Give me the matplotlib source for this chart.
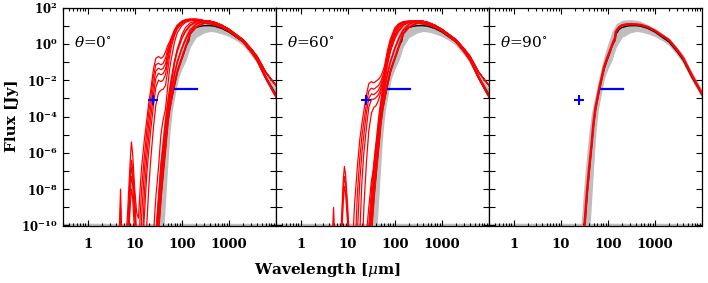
import matplotlib
matplotlib.use('Agg')
import matplotlib.pyplot as plt
from matplotlib.ticker import LogLocator, NullFormatter

plt.rcParams['mathtext.fontset'] = 'dejavuserif'
plt.rcParams['font.family'] = 'DejaVu Serif'

# ---------------- data (log10 flux in Jy; -12 = below plot floor) ----------------
W_RISE = [4, 4.5, 5, 5.5, 6, 7, 8, 8.5, 9, 10, 11, 12, 13, 14, 16, 18, 20, 22, 25, 28,
          32, 36, 40, 45, 50, 55, 60, 70, 80, 100, 120, 150, 200, 250]
W_TAIL = [300, 400, 500, 700, 1000, 1500, 2000, 3000, 4000, 6000, 10000]
TAIL_HI = [1.27, 1.24, 1.18, 1.03, 0.80, 0.46, 0.22, -0.30, -0.72, -1.55, -2.30]
TAIL_LO = [1.15, 1.12, 1.07, 0.93, 0.72, 0.38, 0.13, -0.43, -0.90, -1.85, -2.90]

# theta = 0 deg models
P1_A = [-12, -12, -8.0, -12, -12, -9.5, -6.5, -5.4, -6.0, -8.0, -9.3, -9.6, -8.0, -6.8, -5.3, -4.2, -3.2, -2.5, -1.4, -0.8,
        -0.7, -0.8, -0.72, -0.45, -0.1, 0.1, 0.35, 0.78, 1.03, 1.25, 1.33, 1.37, 1.37, 1.33]
P1_B = [-12, -12, -9.0, -12, -12, -10.5, -7.2, -6.4, -6.8, -8.5, -10.5, -12, -9.5, -8.0, -6.2, -4.8, -3.7, -2.9, -1.8, -1.15,
        -1.07, -1.15, -1.08, -0.8, -0.3, 0.0, 0.28, 0.72, 1.0, 1.22, 1.31, 1.35, 1.35, 1.32]
P1_C = [-12, -12, -12, -12, -12, -12, -7.6, -6.8, -7.2, -9.0, -12, -12, -12, -9.5, -7.0, -5.5, -4.3, -3.4, -2.3, -1.5,
        -1.34, -1.42, -1.36, -1.1, -0.5, -0.08, 0.22, 0.68, 0.97, 1.2, 1.29, 1.34, 1.34, 1.31]
P1_D = [-12, -12, -12, -12, -12, -12, -8.2, -7.3, -7.7, -9.5, -12, -12, -12, -12, -8.2, -6.3, -5.0, -4.0, -2.8, -1.9,
        -1.62, -1.7, -1.64, -1.4, -0.75, -0.2, 0.15, 0.63, 0.93, 1.17, 1.27, 1.33, 1.33, 1.3]
P1_E = [-12, -12, -12, -12, -12, -12, -9.0, -8.0, -8.4, -10.5, -12, -12, -12, -12, -9.5, -7.2, -5.8, -4.7, -3.4, -2.4,
        -2.0, -2.08, -2.0, -1.7, -1.0, -0.35, 0.05, 0.58, 0.9, 1.15, 1.26, 1.32, 1.32, 1.3]
P1_F = [-12, -12, -12, -12, -12, -12, -12, -12, -12, -12, -12, -12, -12, -12, -12, -10.0, -7.8, -6.3, -4.6, -3.4,
        -2.7, -2.55, -2.5, -2.3, -1.5, -0.7, -0.15, 0.45, 0.82, 1.1, 1.23, 1.3, 1.31, 1.29]
P1_G = [-12, -12, -12, -12, -12, -12, -12, -12, -12, -12, -12, -12, -12, -12, -12, -12, -12, -12, -10.5, -8.5,
        -6.8, -5.0, -4.2, -3.6, -2.4, -1.4, -0.8, 0.1, 0.6, 1.0, 1.18, 1.27, 1.3, 1.28]
P1_H = [-12, -12, -12, -12, -12, -12, -12, -12, -12, -12, -12, -12, -12, -12, -12, -12, -12, -12, -12, -10.5,
        -8.5, -6.6, -5.6, -5.3, -3.9, -2.9, -2.2, -1.0, -0.3, 0.5, 0.9, 1.15, 1.25, 1.25]
# right-hand bundle (shared by theta = 0 and 60 deg)
EDGE_1 = [-12, -12, -12, -12, -12, -12, -12, -12, -12, -12, -12, -12, -12, -12, -12, -12, -12, -12, -12, -12,
          -10.2, -8.4, -7.1, -5.7, -4.4, -3.6, -3.05, -2.2, -1.55, -0.8, -0.2, 0.55, 0.92, 1.05]
EDGE_2 = [-12, -12, -12, -12, -12, -12, -12, -12, -12, -12, -12, -12, -12, -12, -12, -12, -12, -12, -12, -11.5,
          -9.6, -7.8, -6.4, -5.0, -3.9, -3.1, -2.55, -1.65, -1.0, -0.25, 0.25, 0.75, 1.08, 1.18]
EDGE_3 = [-12, -12, -12, -12, -12, -12, -12, -12, -12, -12, -12, -12, -12, -12, -12, -12, -12, -12, -12, -10.6,
          -8.8, -7.0, -5.6, -4.3, -3.3, -2.55, -1.95, -1.0, -0.4, 0.3, 0.7, 1.02, 1.2, 1.25]

# theta = 60 deg models
P2_A = [-12, -12, -9.0, -12, -12, -11.0, -7.6, -6.75, -7.2, -9.0, -11.0, -12, -10.5, -8.8, -6.8, -5.3, -4.4, -3.7, -2.8, -2.2,
        -2.08, -2.15, -2.05, -1.95, -1.8, -1.55, -1.25, -0.35, 0.25, 0.88, 1.1, 1.22, 1.26, 1.25]
P2_B = [-12, -12, -12, -12, -12, -12, -8.2, -7.3, -7.7, -9.5, -12, -12, -12, -12, -8.3, -6.3, -5.1, -4.3, -3.3, -2.6,
        -2.44, -2.5, -2.4, -2.3, -2.1, -1.8, -1.45, -0.55, 0.1, 0.8, 1.07, 1.2, 1.25, 1.24]
P2_C = [-12, -12, -12, -12, -12, -12, -8.8, -7.85, -8.2, -10.0, -12, -12, -12, -12, -10.5, -7.6, -6.0, -5.0, -3.8, -3.0,
        -2.75, -2.8, -2.7, -2.55, -2.3, -1.95, -1.6, -0.7, 0.0, 0.75, 1.05, 1.19, 1.24, 1.23]
P2_D = [-12, -12, -12, -12, -12, -12, -12, -12, -12, -12, -12, -12, -12, -12, -12, -10.5, -7.6, -6.0, -4.6, -3.5,
        -3.05, -3.05, -2.95, -2.8, -2.5, -2.1, -1.7, -0.8, -0.05, 0.7, 1.02, 1.17, 1.23, 1.23]
P2_E = [-12, -12, -12, -12, -12, -12, -12, -12, -12, -12, -12, -12, -12, -12, -12, -12, -12, -9.0, -6.5, -4.8,
        -3.8, -3.5, -3.4, -3.1, -2.7, -2.3, -1.85, -0.9, -0.15, 0.65, 1.0, 1.16, 1.22, 1.22]
P2_F = [-12, -12, -12, -12, -12, -12, -12, -12, -12, -12, -12, -12, -12, -12, -12, -12, -12, -12, -12, -10.0,
        -8.0, -6.5, -5.5, -5.25, -3.9, -2.9, -2.2, -1.1, -0.4, 0.45, 0.85, 1.1, 1.2, 1.21]
P2_G = [-12, -12, -12, -12, -12, -12, -12, -12, -12, -12, -12, -12, -12, -12, -12, -12, -12, -12, -10.5, -9.0,
        -7.5, -6.8, -6.2, -4.7, -3.5, -2.7, -2.1, -1.05, -0.35, 0.5, 0.88, 1.12, 1.21, 1.22]

# theta = 90 deg model
W_P3 = [28, 30, 32, 36, 40, 45, 50, 55, 60, 66, 75, 83, 95, 107, 120, 128, 136, 140, 148, 160, 175, 200,
        250, 300, 400, 500, 700, 1000, 1500, 2000, 3000, 4000, 6000, 10000]
P3_RED = [-12.5, -11.0, -10.0, -8.2, -6.9, -5.6, -4.3, -3.5, -3.0, -2.45, -1.8, -1.3, -0.85, -0.5, -0.15, 0.05, 0.22, 0.2,
          0.65, 0.8, 0.92, 1.02, 1.07, 1.08, 1.07, 1.04, 0.93, 0.72, 0.42, 0.2, -0.35, -0.8, -1.7, -2.75]

# best fit (black)
W_BEST = [30, 32, 36, 40, 45, 50, 55, 60, 66, 75, 83, 95, 107, 120, 130, 140, 150, 175, 200, 250, 300, 400, 500,
          700, 1000, 1500, 2000, 3000, 4000, 6000, 10000]
BEST = [-11.2, -10.2, -8.4, -7.1, -5.7, -4.4, -3.6, -3.1, -2.55, -1.9, -1.4, -0.95, -0.6, -0.2, 0.0, 0.15, 0.55, 0.8,
        0.9, 0.97, 1.0, 1.0, 0.97, 0.85, 0.65, 0.33, 0.1, -0.45, -0.9, -1.8, -2.8]

# grey envelope of well-fitting models
W_GREY = [25, 27, 30, 35, 40, 42, 45, 50, 55, 57, 63, 70, 76, 85, 100, 124, 150, 200, 300, 400, 500, 700, 1000,
          1500, 2000, 3000, 4000, 6000, 10000]
GREY_UP = [-12, -10.0, -8.3, -6.3, -4.8, -4.4, -3.8, -3.2, -2.75, -2.5, -2.0, -1.5, -1.1, -0.6, 0.0, 0.7, 1.1, 1.3,
           1.33, 1.3, 1.25, 1.05, 0.85, 0.55, 0.3, -0.2, -0.6, -1.5, -2.5]
GREY_LO = [-14, -14, -14, -14, -12, -10.0, -8.8, -6.8, -5.2, -4.7, -3.64, -3.0, -2.5, -1.9, -1.4, -0.88, -0.2, 0.35,
           0.6, 0.68, 0.65, 0.55, 0.4, 0.15, -0.1, -0.65, -1.1, -2.0, -3.0]

# observations
OBS_PT_WAVE = [24]
OBS_PT_FLUX = [8.3e-4]
OBS_BAND_WAVE = [70, 210]
OBS_BAND_FLUX = [3.2e-3, 3.2e-3]

PANEL_LABELS = [r'$\theta$=0$^{\circ}$', r'$\theta$=60$^{\circ}$', r'$\theta$=90$^{\circ}$']
X_TICKS = [1, 10, 100, 1000]
X_TICK_LABELS = ['1', '10', '100', '1000']
Y_TICK_EXP = [-10, -9, -8, -7, -6, -5, -4, -3, -2, -1, 0, 1, 2]
Y_TICK_LABELS = [r'$\mathbf{10^{-10}}$', '', r'$\mathbf{10^{-8}}$', '', r'$\mathbf{10^{-6}}$', '',
                 r'$\mathbf{10^{-4}}$', '', r'$\mathbf{10^{-2}}$', '', r'$\mathbf{10^{0}}$', '',
                 r'$\mathbf{10^{2}}$']

# ---------------- figure ----------------
RED = '#ff0000'
GREY = '#bebebe'
BLUE = '#0000ff'

FW, FH = 708, 283
fig = plt.figure(figsize=(FW / 100, FH / 100), dpi=100)
left_px = [63, 276, 489]
pw = 213
top_px, bot_px = 7.5, 225.5

panel_red = [
    [(P1_A, TAIL_HI, 0.9), (P1_B, TAIL_HI, 0.9), (P1_C, TAIL_HI, 0.9), (P1_D, TAIL_HI, 0.9),
     (P1_E, TAIL_HI, 0.9), (P1_F, TAIL_HI, 0.9), (P1_G, TAIL_HI, 0.9), (P1_H, TAIL_LO, 0.9),
     (EDGE_3, TAIL_LO, 1.3), (EDGE_2, TAIL_LO, 1.3), (EDGE_1, TAIL_LO, 1.5)],
    [(P2_A, TAIL_HI, 0.9), (P2_B, TAIL_HI, 0.9), (P2_C, TAIL_HI, 0.9), (P2_D, TAIL_HI, 0.9),
     (P2_E, TAIL_HI, 0.9), (P2_F, TAIL_LO, 0.9), (P2_G, TAIL_LO, 0.9),
     (EDGE_3, TAIL_LO, 1.3), (EDGE_2, TAIL_LO, 1.3), (EDGE_1, TAIL_LO, 1.5)],
    [],
]

for i in range(3):
    ax = fig.add_axes([left_px[i] / FW, 1 - bot_px / FH, pw / FW, (bot_px - top_px) / FH])
    ax.set_xscale('log')
    ax.set_yscale('log')

    ax.fill_between(W_GREY, [10.0 ** v for v in GREY_LO], [10.0 ** v for v in GREY_UP],
                    color=GREY, lw=0, zorder=1)
    ax.axhline(1e-10, color=GREY, lw=2.5, zorder=1.5)
    ax.plot(W_BEST, [10.0 ** v for v in BEST], color='black', lw=1.0, zorder=2)

    for rise, tail, lw in panel_red[i]:
        ax.plot(W_RISE + W_TAIL, [10.0 ** v for v in rise + tail], color=RED, lw=lw, zorder=3)
    if i == 2:
        ax.plot(W_P3, [10.0 ** v for v in P3_RED], color=RED, lw=1.8, zorder=3)

    ax.plot(OBS_PT_WAVE, OBS_PT_FLUX, marker='+', ms=6.5, mew=1.5, color=BLUE, ls='none', zorder=4)
    ax.plot(OBS_BAND_WAVE, OBS_BAND_FLUX, color=BLUE, lw=1.6, zorder=4)

    ax.set_xlim(0.3, 1e4)
    ax.set_ylim(1e-10, 1e2)

    ax.set_xticks(X_TICKS)
    ax.set_xticklabels(X_TICK_LABELS, fontsize=9.5, fontweight='bold')
    ax.xaxis.set_minor_locator(LogLocator(base=10, subs=(2, 3, 4, 5, 6, 7, 8, 9), numticks=20))
    ax.xaxis.set_minor_formatter(NullFormatter())
    ax.set_yticks([10.0 ** e for e in Y_TICK_EXP])
    ax.yaxis.set_minor_locator(plt.NullLocator())
    if i == 0:
        ax.set_yticklabels(Y_TICK_LABELS, fontsize=8.5)
    else:
        ax.set_yticklabels([''] * len(Y_TICK_EXP))

    ax.tick_params(which='both', direction='in', top=True, right=True, width=0.8)
    ax.tick_params(which='major', length=4.5)
    ax.tick_params(which='minor', length=2.2)
    ax.tick_params(axis='x', which='major', pad=9)
    ax.tick_params(axis='y', which='major', pad=4)
    for sp in ax.spines.values():
        sp.set_linewidth(0.9)

    ax.text(0.05, 0.84, PANEL_LABELS[i], transform=ax.transAxes, ha='left', va='center',
            fontsize=11, zorder=5)

fig.text(12 / FW, 1 - 116 / FH, 'Flux [Jy]', rotation=90, ha='center', va='center',
         fontsize=11, fontweight='bold')
fig.text(327 / FW, 1 - 270 / FH, r'Wavelength [$\mu$m]', ha='center', va='center',
         fontsize=11, fontweight='bold')

fig.savefig('out.png', dpi=100)
